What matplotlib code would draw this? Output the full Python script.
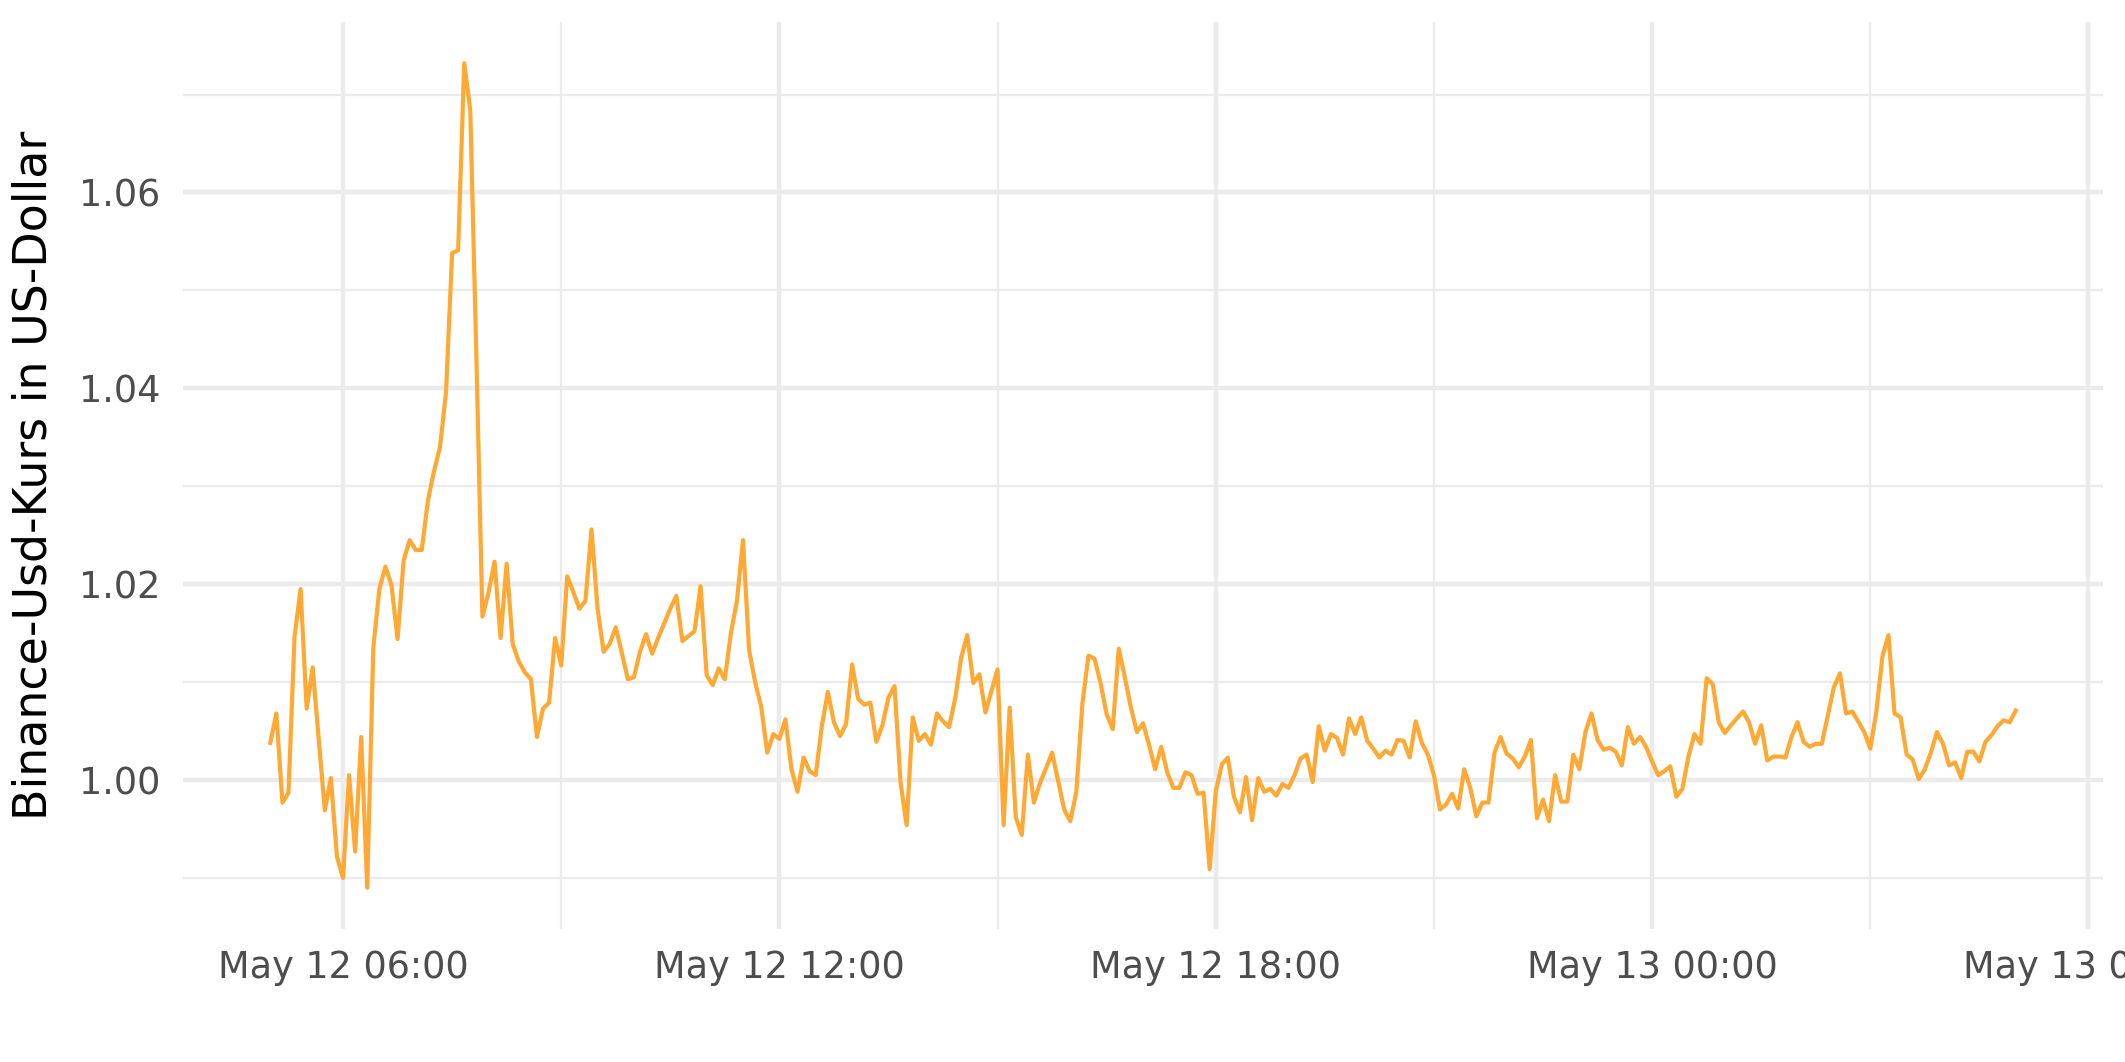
"""
Binance USD price (May 12-13), 5-minute closes, ggplot-minimal look.
"""
import matplotlib

matplotlib.use("Agg")
import matplotlib.dates as mdates
import matplotlib.pyplot as plt
import numpy as np
import pandas as pd

START = "2022-05-12 05:00"
STEP = "5min"

# prices per 6-hour block
PRICE_0500_1055 = [
    1.0038, 1.0068, 0.9977, 0.9987, 1.0146, 1.0195, 1.0073, 1.0115, 1.0041, 0.9969,
    1.0002, 0.9922, 0.9900, 1.0005, 0.9927, 1.0044, 0.9890, 1.0135, 1.0195, 1.0218,
    1.0199, 1.0144, 1.0224, 1.0245, 1.0235, 1.0235, 1.0285, 1.0315, 1.0340, 1.0396,
    1.0538, 1.0541, 1.0732, 1.0684, 1.0434, 1.0167, 1.0191, 1.0223, 1.0145, 1.0221,
    1.0139, 1.0121, 1.0110, 1.0103, 1.0044, 1.0073, 1.0079, 1.0145, 1.0117, 1.0208,
    1.0192, 1.0175, 1.0183, 1.0256, 1.0175, 1.0131, 1.0139, 1.0156, 1.0130, 1.0103,
    1.0105, 1.0131, 1.0149, 1.0129, 1.0145, 1.0160, 1.0175, 1.0188, 1.0142, 1.0147,
    1.0152, 1.0198,
]
PRICE_1100_1655 = [
    1.0107, 1.0097, 1.0114, 1.0103, 1.0150, 1.0183, 1.0245, 1.0133, 1.0100, 1.0075,
    1.0028, 1.0047, 1.0042, 1.0062, 1.0011, 0.9988, 1.0023, 1.0009, 1.0005, 1.0055,
    1.0090, 1.0059, 1.0045, 1.0057, 1.0118, 1.0083, 1.0077, 1.0079, 1.0039, 1.0056,
    1.0084, 1.0096, 0.9997, 0.9954, 1.0064, 1.0040, 1.0047, 1.0036, 1.0068, 1.0060,
    1.0054, 1.0083, 1.0125, 1.0148, 1.0099, 1.0108, 1.0069, 1.0091, 1.0113, 0.9954,
    1.0074, 0.9962, 0.9944, 1.0026, 0.9977, 0.9997, 1.0012, 1.0028, 0.9999, 0.9970,
    0.9958, 0.9988, 1.0078, 1.0127, 1.0124, 1.0099, 1.0067, 1.0052, 1.0134, 1.0105,
    1.0074, 1.0049,
]
PRICE_1700_2255 = [
    1.0058, 1.0036, 1.0011, 1.0034, 1.0008, 0.9992, 0.9992, 1.0008, 1.0005, 0.9986,
    0.9987, 0.9909, 0.9988, 1.0016, 1.0023, 0.9983, 0.9967, 1.0003, 0.9959, 1.0002,
    0.9988, 0.9991, 0.9984, 0.9996, 0.9992, 1.0005, 1.0022, 1.0026, 0.9998, 1.0055,
    1.0030, 1.0047, 1.0043, 1.0026, 1.0063, 1.0047, 1.0064, 1.0040, 1.0032, 1.0023,
    1.0030, 1.0026, 1.0041, 1.0040, 1.0023, 1.0060, 1.0038, 1.0026, 1.0005, 0.9970,
    0.9975, 0.9986, 0.9971, 1.0011, 0.9992, 0.9963, 0.9977, 0.9977, 1.0028, 1.0044,
    1.0027, 1.0022, 1.0013, 1.0024, 1.0041, 0.9961, 0.9980, 0.9958, 1.0005, 0.9978,
    0.9978, 1.0026,
]
PRICE_2300_0500 = [
    1.0011, 1.0049, 1.0068, 1.0041, 1.0031, 1.0033, 1.0029, 1.0015, 1.0054, 1.0037,
    1.0044, 1.0034, 1.0019, 1.0005, 1.0009, 1.0014, 0.9983, 0.9991, 1.0024, 1.0047,
    1.0037, 1.0104, 1.0098, 1.0059, 1.0048, 1.0056, 1.0063, 1.0070, 1.0059, 1.0037,
    1.0056, 1.0020, 1.0024, 1.0024, 1.0023, 1.0044, 1.0059, 1.0039, 1.0034, 1.0037,
    1.0037, 1.0066, 1.0095, 1.0109, 1.0068, 1.0070, 1.0060, 1.0049, 1.0032, 1.0070,
    1.0126, 1.0148, 1.0068, 1.0064, 1.0026, 1.0021, 1.0001, 1.0011, 1.0028, 1.0049,
    1.0037, 1.0015, 1.0018, 1.0002, 1.0029, 1.0029, 1.0019, 1.0039, 1.0046, 1.0055,
    1.0061, 1.0059, 1.0071,
]

Y_TICKS = [1.00, 1.02, 1.04, 1.06]
Y_MINOR = [0.99, 1.01, 1.03, 1.05, 1.07]
Y_LABEL = "Binance-Usd-Kurs in US-Dollar"

LINE_COLOR = "#FFA833"
GRID_COLOR = "#EBEBEB"
TEXT_COLOR = "#4D4D4D"


def main() -> None:
    price = np.array(PRICE_0500_1055 + PRICE_1100_1655 + PRICE_1700_2255 + PRICE_2300_0500)
    time = pd.date_range(START, periods=len(price), freq=STEP)

    W, H = 2125, 1062
    fig = plt.figure(figsize=(W / 300, H / 300), dpi=300)
    fig.patch.set_facecolor("white")
    left, right, top, bottom = 183, 2103, 22, 929
    ax = fig.add_axes([left / W, 1 - bottom / H, (right - left) / W, (bottom - top) / H])

    ax.plot(time, price, color=LINE_COLOR, linewidth=1.0, solid_joinstyle="round", zorder=3)

    # ggplot-style 5% expansion
    span = time[-1] - time[0]
    ax.set_xlim(time[0] - 0.05 * span, time[-1] + 0.05 * span)
    rng = price.max() - price.min()
    ax.set_ylim(price.min() - 0.05 * rng, price.max() + 0.05 * rng)

    ax.xaxis.set_major_locator(mdates.HourLocator(byhour=[0, 6, 12, 18]))
    ax.xaxis.set_minor_locator(mdates.HourLocator(byhour=[3, 9, 15, 21]))
    ax.xaxis.set_major_formatter(mdates.DateFormatter("%b %d %H:%M"))
    ax.set_yticks(Y_TICKS)
    ax.set_yticks(Y_MINOR, minor=True)
    ax.yaxis.set_major_formatter(matplotlib.ticker.FormatStrFormatter("%.2f"))

    ax.grid(which="major", color=GRID_COLOR, linewidth=1.07)
    ax.grid(which="minor", color=GRID_COLOR, linewidth=0.53)
    ax.set_axisbelow(True)
    for s in ax.spines.values():
        s.set_visible(False)

    ax.tick_params(which="both", length=0)
    ax.tick_params(axis="x", which="major", pad=4.8, labelsize=8.8, labelcolor=TEXT_COLOR)
    ax.tick_params(axis="y", which="major", pad=5.4, labelsize=8.8, labelcolor=TEXT_COLOR)
    ax.set_ylabel(Y_LABEL, fontsize=11, color="black", labelpad=5.5)

    fig.savefig("out.png", dpi=300, facecolor="white")
    plt.close(fig)


if __name__ == "__main__":
    main()
